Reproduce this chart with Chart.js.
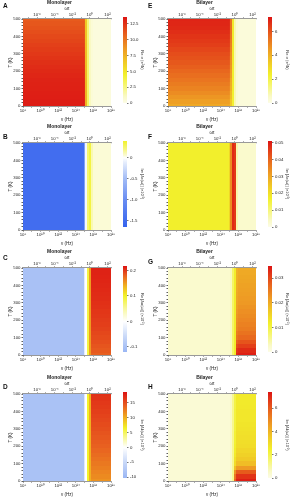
<!DOCTYPE html>
<html><head><meta charset="utf-8">
<script src="https://cdn.jsdelivr.net/npm/chart.js@4.4.1/dist/chart.umd.min.js"></script>
<style>
body{margin:0;background:#fff;width:291px;height:497px;overflow:hidden;position:relative;font-family:"Liberation Sans",Arial,sans-serif}
canvas{position:absolute}
.lbl{position:absolute;font-weight:bold;font-size:6.5px;line-height:7px;color:#111}
</style></head><body>
<script>
// ---------------- DATA ----------------
const T_ROWS = [0,25,50,75,100,125,150,175,200,225,250,275,300,325,350,375,400,425,450,475,500];   // K
const NU_EDGES_LOG = [8, 14.9, 15.1, 15.3, 15.5, 15.7, 15.9, 18];              // log10(ν/Hz) column edges
const NU_TICK_EXP = [8, 9, 10, 11, 12, 13, 14, 15, 16, 17, 18];
const NU_LABEL_EXP = [8, 10, 12, 14, 16, 18];
const WT_TICK_EXP = [-7, -6, -5, -4, -3, -2, -1, 0, 1, 2];
const WT_LABEL_EXP = [-6, -4, -2, 0, 2];
const WT_ONE_LOGNU = 15.6;   // log10 ν where ωτ = 1
const T_LABELS = [0, 100, 200, 300, 400, 500];

// rows follow T_ROWS, columns follow the NU_EDGES_LOG intervals
const A_VALUES = [
 [13.3,13.0,7.5,3.2,1.2,0.5,0.3],[13.28,13.0,7.45,3.2,1.2,0.5,0.3],[13.25,12.95,7.4,3.2,1.2,0.5,0.3],
 [13.2,12.9,7.35,3.15,1.2,0.5,0.3],[13.15,12.85,7.3,3.1,1.2,0.5,0.3],[13.1,12.8,7.25,3.1,1.2,0.5,0.3],
 [13.05,12.75,7.2,3.1,1.2,0.5,0.3],[12.95,12.65,7.15,3.05,1.15,0.5,0.3],[12.85,12.55,7.1,3.0,1.1,0.5,0.3],
 [12.75,12.45,7.05,3.0,1.1,0.5,0.3],[12.6,12.3,7.0,3.0,1.1,0.5,0.3],[12.45,12.15,6.95,2.95,1.1,0.5,0.3],
 [12.3,12.0,6.9,2.9,1.1,0.5,0.3],[12.15,11.85,6.85,2.9,1.1,0.5,0.3],[12.0,11.7,6.8,2.9,1.1,0.5,0.3],
 [11.85,11.55,6.75,2.85,1.05,0.5,0.3],[11.7,11.4,6.7,2.8,1.0,0.5,0.3],[11.5,11.2,6.65,2.8,1.0,0.5,0.3],
 [11.3,11.0,6.6,2.8,1.0,0.5,0.3],[11.15,10.85,6.55,2.75,1.0,0.5,0.3],[11.0,10.7,6.5,2.7,1.0,0.5,0.3]];
const B_VALUES = [
 [-1.5,-0.8,-0.05,0.25,0.35,0.12,0.05],[-1.5,-0.8,-0.05,0.25,0.35,0.12,0.05],[-1.5,-0.8,-0.05,0.25,0.35,0.12,0.05],
 [-1.5,-0.8,-0.05,0.25,0.35,0.12,0.05],[-1.5,-0.8,-0.05,0.25,0.35,0.12,0.05],[-1.5,-0.8,-0.05,0.25,0.35,0.12,0.05],
 [-1.5,-0.8,-0.05,0.25,0.35,0.12,0.05],[-1.5,-0.8,-0.05,0.25,0.35,0.12,0.05],[-1.5,-0.8,-0.05,0.25,0.35,0.12,0.05],
 [-1.5,-0.8,-0.05,0.25,0.35,0.12,0.05],[-1.5,-0.8,-0.05,0.25,0.35,0.12,0.05],[-1.5,-0.8,-0.05,0.25,0.35,0.12,0.05],
 [-1.5,-0.8,-0.05,0.25,0.35,0.12,0.05],[-1.5,-0.8,-0.05,0.25,0.35,0.12,0.05],[-1.5,-0.8,-0.05,0.25,0.35,0.12,0.05],
 [-1.5,-0.8,-0.05,0.25,0.35,0.12,0.05],[-1.5,-0.8,-0.05,0.25,0.35,0.12,0.05],[-1.5,-0.8,-0.05,0.25,0.35,0.12,0.05],
 [-1.5,-0.8,-0.05,0.25,0.35,0.12,0.05],[-1.5,-0.8,-0.05,0.25,0.35,0.12,0.05],[-1.5,-0.8,-0.05,0.25,0.35,0.12,0.05]];
const C_VALUES = [
 [-0.1,-0.03,0,0.09,0.15,0.180,0.180],[-0.1,-0.03,0,0.09,0.15,0.183,0.183],[-0.1,-0.03,0,0.09,0.15,0.185,0.185],
 [-0.1,-0.03,0,0.09,0.15,0.188,0.188],[-0.1,-0.03,0,0.09,0.15,0.190,0.190],[-0.1,-0.03,0,0.09,0.15,0.192,0.192],
 [-0.1,-0.03,0,0.09,0.15,0.194,0.194],[-0.1,-0.03,0,0.09,0.15,0.196,0.196],[-0.1,-0.03,0,0.09,0.15,0.197,0.197],
 [-0.1,-0.03,0,0.09,0.15,0.199,0.199],[-0.1,-0.03,0,0.09,0.15,0.200,0.200],[-0.1,-0.03,0,0.09,0.15,0.202,0.202],
 [-0.1,-0.03,0,0.09,0.15,0.203,0.203],[-0.1,-0.03,0,0.09,0.15,0.204,0.204],[-0.1,-0.03,0,0.09,0.15,0.205,0.205],
 [-0.1,-0.03,0,0.09,0.15,0.206,0.206],[-0.1,-0.03,0,0.09,0.15,0.207,0.207],[-0.1,-0.03,0,0.09,0.15,0.208,0.208],
 [-0.1,-0.03,0,0.09,0.15,0.209,0.209],[-0.1,-0.03,0,0.09,0.15,0.2095,0.2095],[-0.1,-0.03,0,0.09,0.15,0.210,0.210]];
const D_VALUES = [
 [-8.5,-3,0,6.5,10,11.5,11.5],[-8.5,-3,0,6.5,10,11.9,11.9],[-8.5,-3,0,6.5,10,12.2,12.2],
 [-8.5,-3,0,6.5,10,12.5,12.5],[-8.5,-3,0,6.5,10,12.8,12.8],[-8.5,-3,0,6.5,10,13.1,13.1],
 [-8.5,-3,0,6.5,10,13.4,13.4],[-8.5,-3,0,6.5,10,13.7,13.7],[-8.5,-3,0,6.5,10,14.0,14.0],
 [-8.5,-3,0,6.5,10,14.25,14.25],[-8.5,-3,0,6.5,10,14.5,14.5],[-8.5,-3,0,6.5,10,14.75,14.75],
 [-8.5,-3,0,6.5,10,15.0,15.0],[-8.5,-3,0,6.5,10,15.25,15.25],[-8.5,-3,0,6.5,10,15.5,15.5],
 [-8.5,-3,0,6.5,10,15.75,15.75],[-8.5,-3,0,6.5,10,16.0,16.0],[-8.5,-3,0,6.5,10,16.2,16.2],
 [-8.5,-3,0,6.5,10,16.4,16.4],[-8.5,-3,0,6.5,10,16.6,16.6],[-8.5,-3,0,6.5,10,16.8,16.8]];
const E_VALUES = [
 [4.2,4.1,3.4,2.3,0.8,0.3,0.2],[4.4,4.3,3.5,2.3,0.8,0.3,0.2],[4.6,4.5,3.7,2.3,0.8,0.3,0.2],
 [4.8,4.7,3.8,2.35,0.8,0.3,0.2],[5.0,4.9,4.0,2.4,0.8,0.3,0.2],[5.15,5.05,4.1,2.4,0.8,0.3,0.2],
 [5.3,5.2,4.2,2.4,0.8,0.3,0.2],[5.45,5.35,4.4,2.4,0.8,0.3,0.2],[5.6,5.5,4.5,2.4,0.8,0.3,0.2],
 [5.75,5.65,4.6,2.45,0.8,0.3,0.2],[5.9,5.8,4.7,2.5,0.8,0.3,0.2],[6.0,5.9,4.8,2.5,0.8,0.3,0.2],
 [6.1,6.0,4.9,2.5,0.8,0.3,0.2],[6.25,6.15,5.0,2.5,0.8,0.3,0.2],[6.4,6.3,5.1,2.5,0.8,0.3,0.2],
 [6.5,6.4,5.2,2.5,0.8,0.3,0.2],[6.6,6.5,5.3,2.5,0.8,0.3,0.2],[6.7,6.6,5.35,2.55,0.8,0.3,0.2],
 [6.8,6.7,5.4,2.6,0.8,0.3,0.2],[6.85,6.75,5.45,2.6,0.8,0.3,0.2],[6.9,6.8,5.5,2.6,0.8,0.3,0.2]];
const F_VALUES = [
 [0.017,0.022,0.034,0.048,0.046,0.006,0.003],[0.017,0.022,0.034,0.048,0.046,0.006,0.003],[0.017,0.022,0.034,0.048,0.046,0.006,0.003],
 [0.017,0.022,0.034,0.048,0.046,0.006,0.003],[0.017,0.022,0.034,0.048,0.046,0.006,0.003],[0.017,0.022,0.034,0.048,0.046,0.006,0.003],
 [0.017,0.022,0.034,0.048,0.046,0.006,0.003],[0.017,0.022,0.034,0.048,0.046,0.006,0.003],[0.017,0.022,0.034,0.048,0.046,0.006,0.003],
 [0.017,0.022,0.034,0.048,0.046,0.006,0.003],[0.017,0.022,0.034,0.048,0.046,0.006,0.003],[0.017,0.022,0.034,0.048,0.046,0.006,0.003],
 [0.017,0.022,0.034,0.048,0.046,0.006,0.003],[0.017,0.022,0.034,0.048,0.046,0.006,0.003],[0.017,0.022,0.034,0.048,0.046,0.006,0.003],
 [0.017,0.022,0.034,0.048,0.046,0.006,0.003],[0.017,0.022,0.034,0.048,0.046,0.006,0.003],[0.017,0.022,0.034,0.048,0.046,0.006,0.003],
 [0.017,0.022,0.034,0.048,0.046,0.006,0.003],[0.017,0.022,0.034,0.048,0.046,0.006,0.003],[0.017,0.022,0.034,0.048,0.046,0.006,0.003]];
const G_VALUES = [
 [0.002,0.002,0.003,0.008,0.012,0.033,0.034],[0.002,0.002,0.003,0.008,0.012,0.032,0.033],[0.002,0.002,0.003,0.008,0.012,0.030,0.031],
 [0.002,0.002,0.003,0.008,0.012,0.028,0.029],[0.002,0.002,0.003,0.008,0.012,0.026,0.027],[0.002,0.002,0.003,0.008,0.012,0.025,0.026],
 [0.002,0.002,0.003,0.008,0.012,0.024,0.025],[0.002,0.002,0.003,0.008,0.012,0.0235,0.0245],[0.002,0.002,0.003,0.008,0.012,0.023,0.024],
 [0.002,0.002,0.003,0.008,0.012,0.0225,0.0235],[0.002,0.002,0.003,0.008,0.012,0.022,0.023],[0.002,0.002,0.003,0.008,0.012,0.0215,0.0225],
 [0.002,0.002,0.003,0.008,0.012,0.021,0.022],[0.002,0.002,0.003,0.008,0.012,0.0208,0.0218],[0.002,0.002,0.003,0.008,0.012,0.0205,0.0215],
 [0.002,0.002,0.003,0.008,0.012,0.0202,0.0212],[0.002,0.002,0.003,0.008,0.012,0.020,0.021],[0.002,0.002,0.003,0.008,0.012,0.0197,0.0207],
 [0.002,0.002,0.003,0.008,0.012,0.0195,0.0205],[0.002,0.002,0.003,0.008,0.012,0.0192,0.0202],[0.002,0.002,0.003,0.008,0.012,0.019,0.020]];
const H_VALUES = [
 [0.3,0.3,0.5,1.2,5.8,7.2,7.2],[0.3,0.3,0.5,1.2,5.4,6.8,6.8],[0.3,0.3,0.5,1.2,4.8,6.0,6.0],
 [0.3,0.3,0.5,1.2,3.7,4.6,4.6],[0.3,0.3,0.5,1.2,3.0,3.8,3.8],[0.3,0.3,0.5,1.2,2.8,3.5,3.5],
 [0.3,0.3,0.5,1.2,2.6,3.3,3.3],[0.3,0.3,0.5,1.2,2.5,3.15,3.15],[0.3,0.3,0.5,1.2,2.4,3.0,3.0],
 [0.3,0.3,0.5,1.2,2.35,2.95,2.95],[0.3,0.3,0.5,1.2,2.3,2.9,2.9],[0.3,0.3,0.5,1.2,2.3,2.85,2.85],
 [0.3,0.3,0.5,1.2,2.2,2.8,2.8],[0.3,0.3,0.5,1.2,2.2,2.75,2.75],[0.3,0.3,0.5,1.2,2.2,2.7,2.7],
 [0.3,0.3,0.5,1.2,2.2,2.7,2.7],[0.3,0.3,0.5,1.2,2.2,2.7,2.7],[0.3,0.3,0.5,1.2,2.1,2.65,2.65],
 [0.3,0.3,0.5,1.2,2.1,2.6,2.6],[0.3,0.3,0.5,1.2,2.1,2.6,2.6],[0.3,0.3,0.5,1.2,2.1,2.6,2.6]];

const A_CB_TICKS = [0, 2.5, 5, 7.5, 10, 12.5];    const A_CB_LABELS = ['0','2.5','5.0','7.5','10.0','12.5'];
const B_CB_TICKS = [-1.5, -1, -0.5, 0];           const B_CB_LABELS = ['-1.5','-1.0','-0.5','0'];
const C_CB_TICKS = [-0.1, 0, 0.1, 0.2];           const C_CB_LABELS = ['-0.1','0','0.1','0.2'];
const D_CB_TICKS = [-10, -5, 0, 5, 10, 15];       const D_CB_LABELS = ['-10','-5','0','5','10','15'];
const E_CB_TICKS = [0, 2, 4, 6];                  const E_CB_LABELS = ['0','2','4','6'];
const F_CB_TICKS = [0, 0.01, 0.02, 0.03, 0.04, 0.05]; const F_CB_LABELS = ['0','0.01','0.02','0.03','0.04','0.05'];
const G_CB_TICKS = [0, 0.01, 0.02, 0.03];         const G_CB_LABELS = ['0','0.01','0.02','0.03'];
const H_CB_TICKS = [0, 2, 4, 6];                  const H_CB_LABELS = ['0','2','4','6'];

// ---------------- STYLE ----------------
const FONT = '"Liberation Sans", Arial, sans-serif';
const TXT = '#222';
const SEQ = [[0,'#fcfce6'],[0.08,'#f9f9c4'],[0.2,'#f6f676'],[0.33,'#f2f02c'],[0.48,'#f0c826'],
             [0.62,'#ee9c24'],[0.78,'#e8661e'],[0.9,'#e23a18'],[1,'#dc1414']];
function seqStops(min, max){ return SEQ.map(([t,c]) => [min + t*(max-min), c]); }
const B_STOPS = [[-1.66,'#3563ee'],[-1.0,'#6a8df2'],[-0.5,'#a3bcf6'],[-0.12,'#e4ecfc'],[0,'#ffffff'],[0.05,'#fbfbd6'],[0.2,'#f6f684'],[0.4,'#f2f22c']];
const C_STOPS = [[-0.12,'#9ab6f4'],[-0.06,'#c8d8f8'],[0,'#ffffff'],[0.05,'#f8f8a0'],[0.1,'#f2f22a'],[0.14,'#f0b020'],[0.18,'#e86020'],[0.217,'#dc1212']];
const D_STOPS = [[-10.3,'#9ab6f4'],[-5,'#c8d8f8'],[0,'#ffffff'],[3,'#f8f8a0'],[6.5,'#f2f22a'],[10,'#f0b020'],[14,'#e86020'],[18.7,'#dc1212']];

const PANELS = [
 {id:'A', title:'Monolayer', col:0, row:0, values:A_VALUES, range:[0,13.6],  stops:seqStops(0,13.6),  ticks:A_CB_TICKS, labels:A_CB_LABELS, cbTitle:'Re σ (e²/ħ)', ly:2},
 {id:'B', title:'Monolayer', col:0, row:1, values:B_VALUES, range:[-1.66,0.4], stops:B_STOPS,        ticks:B_CB_TICKS, labels:B_CB_LABELS, cbTitle:'Im [Δε(ω)] (×10⁻²)', ly:9},
 {id:'C', title:'Monolayer', col:0, row:2, values:C_VALUES, range:[-0.12,0.217], stops:C_STOPS,      ticks:C_CB_TICKS, labels:C_CB_LABELS, cbTitle:'Re [Δn(ω)] (×10⁻²)', ly:5},
 {id:'D', title:'Monolayer', col:0, row:3, values:D_VALUES, range:[-10.3,18.7], stops:D_STOPS,       ticks:D_CB_TICKS, labels:D_CB_LABELS, cbTitle:'Im [Δk(ω)] (×10⁻²)', ly:8},
 {id:'E', title:'Bilayer',   col:1, row:0, values:E_VALUES, range:[0,7.2],   stops:seqStops(0,7.2),   ticks:E_CB_TICKS, labels:E_CB_LABELS, cbTitle:'Re σ (e²/ħ)', ly:2},
 {id:'F', title:'Bilayer',   col:1, row:1, values:F_VALUES, range:[0,0.051], stops:seqStops(0,0.051), ticks:F_CB_TICKS, labels:F_CB_LABELS, cbTitle:'Im [Δε(ω)] (×10⁻²)', ly:9},
 {id:'G', title:'Bilayer',   col:1, row:2, values:G_VALUES, range:[0,0.035], stops:seqStops(0,0.035), ticks:G_CB_TICKS, labels:G_CB_LABELS, cbTitle:'Re [Δn(ω)] (×10⁻²)', ly:9},
 {id:'H', title:'Bilayer',   col:1, row:3, values:H_VALUES, range:[0,7.4],   stops:seqStops(0,7.4),   ticks:H_CB_TICKS, labels:H_CB_LABELS, cbTitle:'Im [Δk(ω)] (×10⁻²)', ly:8}
];
const COL_X = [0, 145];
const ROW_Y = [0, 124, 249, 375];
const HALF_ROW = 12.5;   // half of the T spacing of T_ROWS

// ---------------- HELPERS ----------------
const SUP = {'0':'⁰','1':'¹','2':'²','3':'³','4':'⁴','5':'⁵','6':'⁶','7':'⁷','8':'⁸','9':'⁹','-':'⁻'};
const pow10Label = e => '10' + String(e).split('').map(ch => SUP[ch]).join('');
function hex2rgb(h){ return [parseInt(h.slice(1,3),16), parseInt(h.slice(3,5),16), parseInt(h.slice(5,7),16)]; }
function makeCmap(stops){
  const s = stops.map(([v,h]) => [v, hex2rgb(h)]);
  return v => {
    if (v <= s[0][0]) return 'rgb(' + s[0][1].join(',') + ')';
    for (let i = 1; i < s.length; i++) {
      if (v <= s[i][0]) {
        const t = (v - s[i-1][0]) / (s[i][0] - s[i-1][0]);
        const c = s[i-1][1].map((a, k) => Math.round(a + t*(s[i][1][k] - a)));
        return 'rgb(' + c.join(',') + ')';
      }
    }
    return 'rgb(' + s[s.length-1][1].join(',') + ')';
  };
}
function heatPlugin(cmap){
  return { id:'heat', beforeDatasetsDraw(chart){
    const {ctx, chartArea:a, scales:{x, y}} = chart;
    ctx.save(); ctx.beginPath(); ctx.rect(a.left, a.top, a.width, a.height); ctx.clip();
    for (const d of chart.data.datasets[0].data) {
      const c = d.cell;
      const x0 = Math.round(x.getPixelForValue(Math.pow(10, c.n0)));
      const x1 = Math.round(x.getPixelForValue(Math.pow(10, c.n1)));
      const y0 = Math.round(y.getPixelForValue(c.t1));
      const y1 = Math.round(y.getPixelForValue(c.t0));
      ctx.fillStyle = cmap(c.v);
      ctx.fillRect(x0, y0, x1 - x0, y1 - y0);
    }
    ctx.restore();
  }};
}
function mkCanvas(left, top, w, h){
  const cv = document.createElement('canvas');
  cv.width = w; cv.height = h;
  cv.style.left = left + 'px'; cv.style.top = top + 'px';
  cv.style.width = w + 'px'; cv.style.height = h + 'px';
  document.body.appendChild(cv);
  return cv;
}
const f = (s) => ({size:s, family:FONT});

function makeMain(p){
  const left = COL_X[p.col], top = ROW_Y[p.row];
  const cv = mkCanvas(left, top, 118, 122);
  const cells = [];
  T_ROWS.forEach((T, r) => {
    for (let j = 0; j < NU_EDGES_LOG.length - 1; j++) {
      const cell = {t0: Math.max(0, T - HALF_ROW), t1: Math.min(500, T + HALF_ROW), n0: NU_EDGES_LOG[j], n1: NU_EDGES_LOG[j+1], v: p.values[r][j]};
      cells.push({x: Math.pow(10, (cell.n0 + cell.n1) / 2), y: T, cell});
    }
  });
  const tickGrid = {drawOnChartArea:false, tickLength:1.5, color:'#333', lineWidth:0.8};
  new Chart(cv, {
    type:'scatter',
    data:{datasets:[{data:cells, pointRadius:0, pointHoverRadius:0}]},
    options:{
      responsive:false, animation:false, events:[],
      layout:{padding:{left:8, right:7, top:0, bottom:0}},
      plugins:{legend:{display:false}, tooltip:{enabled:false},
        title:{display:true, text:p.title, font:f(5), color:TXT, padding:{top:0, bottom:0}}},
      scales:{
        x:{type:'logarithmic', position:'bottom', min:1e8, max:1e18,
           afterBuildTicks:s => { s.ticks = NU_TICK_EXP.map(e => ({value:Math.pow(10, e)})); },
           ticks:{autoSkip:false, maxRotation:0, font:f(4.3), color:TXT, padding:0.5,
             callback:(v) => { const e = Math.round(Math.log10(v)); return NU_LABEL_EXP.includes(e) ? pow10Label(e) : ''; }},
           grid:tickGrid, border:{color:'#999', width:1},
           title:{display:true, text:'ν (Hz)', font:f(4.5), color:TXT, padding:{top:1, bottom:0}},
           afterFit:s => { s.height = 16; }},
        x2:{type:'logarithmic', position:'top', min:Math.pow(10, 8 - WT_ONE_LOGNU), max:Math.pow(10, 18 - WT_ONE_LOGNU),
           afterBuildTicks:s => { s.ticks = WT_TICK_EXP.map(e => ({value:Math.pow(10, e)})); },
           ticks:{autoSkip:false, maxRotation:0, font:f(4.3), color:TXT, padding:0.5,
             callback:(v) => { const e = Math.round(Math.log10(v)); return WT_LABEL_EXP.includes(e) ? pow10Label(e) : ''; }},
           grid:tickGrid, border:{color:'#999', width:1.2},
           title:{display:true, text:'ωτ', font:f(4.5), color:TXT, padding:0},
           afterFit:s => { s.height = 13; }},
        y:{type:'linear', min:0, max:500,
           afterBuildTicks:s => { const t = []; for (let v = 0; v <= 500; v += 20) t.push({value:v}); s.ticks = t; },
           ticks:{autoSkip:false, font:f(4.3), color:TXT, padding:1,
             callback:(v) => T_LABELS.includes(v) ? String(v) : ''},
           grid:tickGrid, border:{color:'#666', width:1},
           title:{display:true, text:'T (K)', font:f(4.5), color:TXT, padding:0},
           afterFit:s => { s.width = 15; }}
      }
    },
    plugins:[heatPlugin(makeCmap(p.stops))]
  });
}

function makeBar(p){
  const left = COL_X[p.col] + 118, top = ROW_Y[p.row];
  const cv = mkCanvas(left, top, 27, 124);
  const [mn, mx] = p.range;
  new Chart(cv, {
    type:'bar',
    data:{labels:[''], datasets:[{data:[[mn, mx]], barPercentage:1, categoryPercentage:1, borderWidth:0,
      backgroundColor:(ctx) => {
        const ch = ctx.chart, ys = ch.scales.y;
        if (!ys || !ch.chartArea) return '#fff';
        const g = ch.ctx.createLinearGradient(0, ys.getPixelForValue(mn), 0, ys.getPixelForValue(mx));
        p.stops.forEach(([v, c]) => g.addColorStop(Math.min(1, Math.max(0, (v - mn) / (mx - mn))), c));
        return g;
      }}]},
    options:{
      responsive:false, animation:false, events:[],
      layout:{padding:{left:5, right:0, top:17, bottom:21}},
      plugins:{legend:{display:false}, tooltip:{enabled:false}},
      scales:{
        x:{display:false},
        y:{position:'right', min:mn, max:mx,
           afterBuildTicks:s => { s.ticks = p.ticks.map(v => ({value:v})); },
           ticks:{autoSkip:false, font:f(4.3), color:TXT, padding:1.5, callback:(v, i) => p.labels[i]},
           grid:{drawOnChartArea:false, tickLength:1.5, color:'#555', lineWidth:0.8},
           border:{display:false},
           title:{display:true, text:p.cbTitle, font:f(4), color:TXT, padding:0},
           afterFit:s => { s.width = 18; }}
      }
    }
  });
}

PANELS.forEach(p => {
  makeMain(p);
  makeBar(p);
  const d = document.createElement('div');
  d.className = 'lbl';
  d.textContent = p.id;
  d.style.left = (COL_X[p.col] + 3) + 'px';
  d.style.top = (ROW_Y[p.row] + p.ly) + 'px';
  document.body.appendChild(d);
});
</script>
</body></html>
